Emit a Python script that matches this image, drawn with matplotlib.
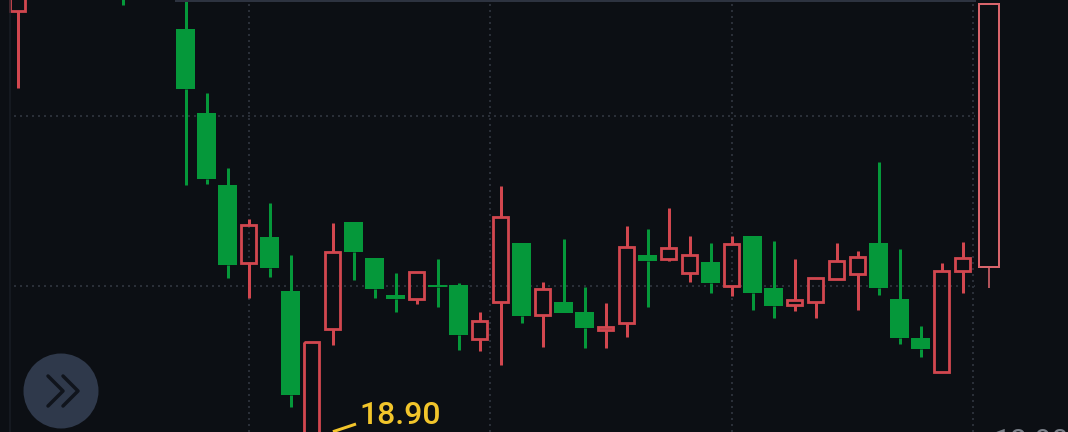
import matplotlib
matplotlib.use('Agg')
import matplotlib.pyplot as plt
from matplotlib.lines import Line2D
from matplotlib.patches import Circle

W, H = 1068, 432
BG = '#0c0f14'
RED = '#d2474f'
LIVE_RED = '#d9656c'
GREEN = '#05983a'
GRID = '#2a2f38'
YELLOW = '#f2c52b'

# candles, y is in image rows (there is no price axis to read)
idx = [0, 5] + list(range(8, 46)) + [46.27]
is_up = [1, 0,
         0, 0, 0, 1, 0, 0, 1, 1, 0, 0,
         0, 1, 0, 0, 1, 1, 0, 1, 0, 0,
         1, 1, 0, 1, 1, 0, 1, 0, 0, 1,
         1, 1, 1, 0, 0, 0, 1, 1,
         1]
top = [-20, -40,
       28.7, 112.7, 185.3, 225.0, 237.3, 290.7, 341.7, 251.7, 221.7, 257.7,
       294.7, 271.7, 285.3, 285.3, 320.7, 216.7, 242.7, 289.3, 301.7, 311.7,
       326.7, 246.7, 254.7, 247.7, 254.7, 261.7, 243.7, 235.7, 287.7, 300.0,
       277.7, 261.0, 256.7, 242.7, 298.7, 337.7, 270.7, 257.7,
       4.0]
bottom = [10.5, -20,
          89.3, 179.3, 265.3, 263.3, 268.3, 395.0, 460.0, 329.3, 252.3, 289.3,
          299.3, 299.3, 287.0, 335.3, 339.3, 302.0, 316.0, 315.3, 313.3, 328.3,
          330.0, 322.7, 261.3, 258.7, 272.7, 283.3, 285.7, 293.3, 306.0, 305.3,
          302.0, 279.3, 273.7, 288.3, 338.3, 349.3, 372.3, 271.3,
          266.7]
high = [-20, -40,
        -5, 92.7, 167.7, 218.7, 202.7, 255.0, 341.7, 222.7, 221.7, 257.7,
        272.7, 271.7, 258.7, 282.7, 311.7, 185.7, 242.7, 281.7, 238.7, 287.3,
        302.7, 225.7, 228.7, 207.7, 235.7, 242.7, 235.7, 235.7, 240.7, 258.7,
        277.7, 242.7, 250.7, 161.7, 248.7, 325.7, 262.7, 241.7,
        4.0]
low = [88.0, 5.0,
       185.0, 184.0, 278.0, 298.0, 277.0, 407.3, 460.0, 345.0, 280.0, 298.3,
       312.3, 304.3, 307.3, 350.3, 350.7, 365.3, 322.7, 347.3, 313.3, 348.3,
       348.3, 337.3, 307.3, 261.3, 282.3, 292.7, 295.7, 310.3, 318.3, 310.7,
       318.3, 279.3, 310.3, 295.3, 344.3, 357.3, 372.3, 292.7,
       287.7]

grid_x = [11, 22.5, 34, 45.5]
grid_y = [115.5, 286]
low_label = '18.90'
corner_label = '18.90'

step = 21.0
x0 = 17.5


def px(v):
    return v * 0.72


fig = plt.figure(figsize=(W / 100, H / 100), dpi=100, facecolor=BG)
ax = fig.add_axes([14 / W, 0, (975 - 14) / W, 1], facecolor=BG)
ax.set_xlim((14 - x0) / step, (975 - x0) / step)
ax.set_ylim(H, 0)
for s in ax.spines.values():
    s.set_visible(False)
ax.set_xticks(grid_x)
ax.set_yticks(grid_y)
ax.tick_params(length=0, labelbottom=False, labelleft=False)
ax.grid(True, color=GRID, lw=px(2), ls=(0, (1, 2)))
ax.set_axisbelow(True)

for i, up, t, b, h, l in zip(idx, is_up, top, bottom, high, low):
    last = i == idx[-1]
    color = RED if up else GREEN
    if last:
        color = LIVE_RED
    wick = px(1.6) if last else px(3)
    ax.vlines(i, h, t, color=color, lw=wick, clip_on=False, capstyle='butt')
    ax.vlines(i, b, l, color=color, lw=wick, clip_on=False, capstyle='butt')
    if up:
        ax.bar(i, b - t, bottom=t, width=(20.4 if last else 15.8) / step, facecolor='none',
               edgecolor=color, lw=px(2.0 if last else 2.8), clip_on=False)
    else:
        ax.bar(i, b - t, bottom=t, width=18.3 / step, color=color, lw=0, clip_on=False)

# price tag on the low
ax.plot([15.02, 16.12], [431.7, 424], color=YELLOW, lw=px(3), clip_on=False, solid_capstyle='butt')
ax.text(16.3, 424, low_label, color=YELLOW, fontsize=px(32), family='Roboto', weight='medium',
        ha='left', va='baseline', clip_on=False)

# frame lines
fig.add_artist(Line2D([10 / W, 10 / W], [0, 1], color='#191d25', lw=px(1.5)))
fig.add_artist(Line2D([176 / W, 975 / W], [1 - 1.2 / H, 1 - 1.2 / H], color='#2d3340', lw=px(2)))

# scroll button
fig.add_artist(Circle((61, H - 391), 37.5, transform=None, color='#2f394b', lw=0))
for dx in (0, 15):
    xs = [(48 + dx) / W, (63 + dx) / W, (48 + dx) / W]
    ys = [1 - 376 / H, 1 - 391 / H, 1 - 406 / H]
    fig.add_artist(Line2D(xs, ys, color='#10141c', lw=px(3.5), solid_capstyle='round'))

fig.text(993 / W, 1 - 450 / H, corner_label, color='#7a7f88', fontsize=px(30), family='Roboto')

fig.savefig('out.png', dpi=100, facecolor=BG)
